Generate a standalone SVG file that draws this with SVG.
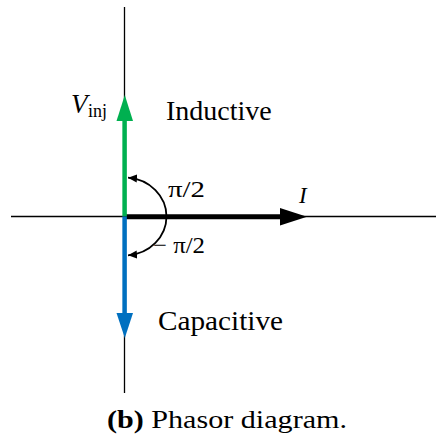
<svg xmlns="http://www.w3.org/2000/svg" width="436" height="436" viewBox="0 0 436 436">
<style>
  .t { font-family: "Liberation Serif", "Times New Roman", serif; fill: #000; }
  .axis { stroke: #000; stroke-width: 1.3; fill: none; }
  .arc { stroke: #000; stroke-width: 1.8; fill: none; marker-end: url(#ah); }
</style>
<defs>
  <marker id="ah" markerWidth="10" markerHeight="10" refX="9" refY="5" orient="auto" markerUnits="userSpaceOnUse">
    <path d="M0,1 L9,5 L0,9 Z" fill="#000"/>
  </marker>
</defs>
<rect width="436" height="436" fill="#fff"/>
<g id="axes">
  <line class="axis" x1="124.5" y1="7" x2="124.5" y2="393"/>
  <line class="axis" x1="11" y1="216.5" x2="436" y2="216.5"/>
</g>
<g id="connectors">
  <path class="arc" d="M166.5,216.5 A42,39 0 0 0 128,177.7"/>
  <path class="arc" d="M166.5,216.5 A42,39 0 0 1 128,255.3"/>
</g>
<g id="node-I">
  <line x1="124.5" y1="216.8" x2="282" y2="216.8" stroke="#000" stroke-width="5"/>
  <polygon points="307,216.8 280,208 280,225.6" fill="#000"/>
  <text class="t" x="299" y="203" font-size="23" font-style="italic">I</text>
</g>
<g id="node-Vinj">
  <line x1="124.6" y1="216.5" x2="124.6" y2="119" stroke="#00b050" stroke-width="4.5"/>
  <polygon points="124.8,95 116.5,121 133,121" fill="#00b050"/>
  <text class="t" x="71" y="113" font-size="27" font-style="italic">V</text>
  <text class="t" x="88" y="117" font-size="18">inj</text>
</g>
<g id="node-cap">
  <line x1="124.6" y1="216.5" x2="124.6" y2="315" stroke="#0070c0" stroke-width="4.5"/>
  <polygon points="124.8,338 116.5,313 133,313" fill="#0070c0"/>
</g>
<g id="labels">
  <text class="t" x="166" y="120" font-size="28">Inductive</text>
  <text class="t" x="158" y="330" font-size="28" textLength="125" lengthAdjust="spacingAndGlyphs">Capacitive</text>
  <text class="t" x="168" y="197" font-size="24" textLength="37" lengthAdjust="spacingAndGlyphs">π/2</text>
  <text class="t" x="153" y="253" font-size="24" textLength="52" lengthAdjust="spacingAndGlyphs">− π/2</text>
</g>
<g id="caption">
  <text class="t" x="107" y="428" font-size="26" textLength="240" lengthAdjust="spacingAndGlyphs"><tspan font-weight="bold">(b)</tspan> Phasor diagram.</text>
</g>
</svg>
